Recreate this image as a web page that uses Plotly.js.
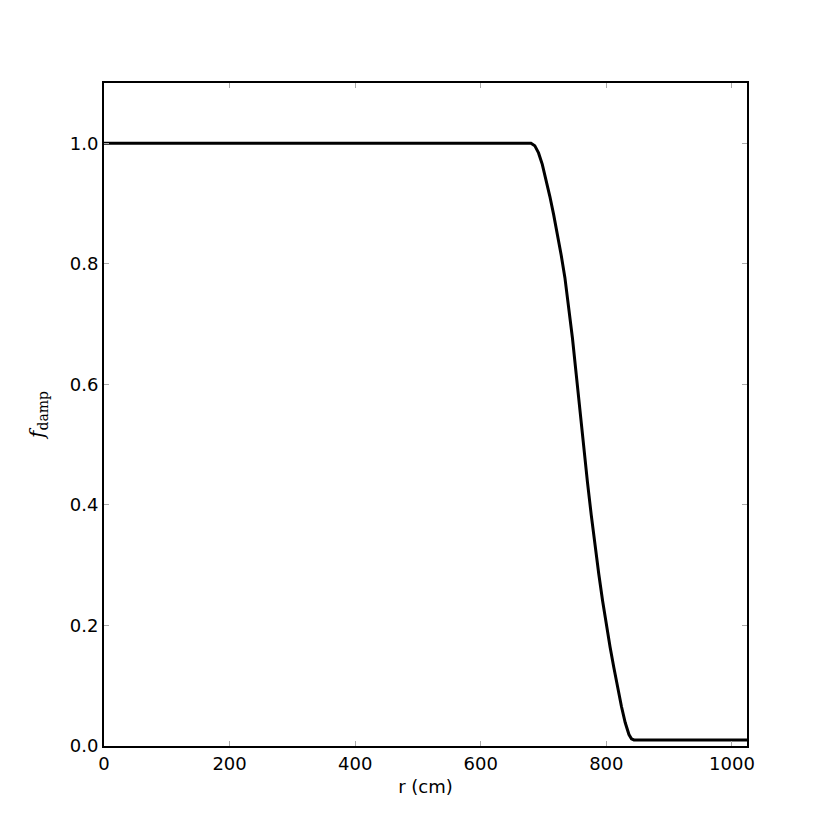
<!DOCTYPE html>
<html>
<head>
<meta charset="utf-8">
<script src="https://cdn.plot.ly/plotly-3.0.1.min.js"></script>
<style>html,body{margin:0;padding:0;background:#fff;}#chart{width:830px;height:830px;}</style>
</head>
<body>
<div id="chart"></div>
<script>
// radius (cm) and damping factor
const radius = [0, 200, 400, 600, 680, 686, 692, 698, 704, 710, 716, 722, 728, 734, 740, 746, 752, 758, 764, 770, 776, 782, 788, 794, 800, 806, 812, 818, 824, 830, 836, 840, 844, 900, 1000, 1024];
const fDamp  = [1.0, 1.0, 1.0, 1.0, 1.0, 0.996, 0.984, 0.965, 0.940, 0.912, 0.882, 0.850, 0.815, 0.777, 0.731, 0.677, 0.617, 0.555, 0.494, 0.437, 0.383, 0.332, 0.285, 0.241, 0.200, 0.164, 0.130, 0.097, 0.066, 0.039, 0.019, 0.012, 0.010, 0.010, 0.010, 0.010];
const xTicks = [0, 200, 400, 600, 800, 1000];
const yTicks = [0.0, 0.2, 0.4, 0.6, 0.8, 1.0];
const yTickText = ["0.0", "0.2", "0.4", "0.6", "0.8", "1.0"];

const trace = {
  x: radius, y: fDamp, type: 'scatter', mode: 'lines',
  line: {color: '#000', width: 3, shape: 'linear'},
  hoverinfo: 'skip'
};
const axisCommon = {
  showgrid: false, zeroline: false, showline: true, mirror: 'ticks',
  linecolor: '#000', linewidth: 2, ticks: 'inside', ticklen: 5, tickwidth: 1,
  tickcolor: '#aaa',
  tickfont: {family: 'DejaVu Sans, sans-serif', size: 18, color: '#000'}
};
const layout = {
  width: 830, height: 830,
  margin: {l: 104, r: 83, t: 83, b: 84},
  paper_bgcolor: '#fff', plot_bgcolor: '#fff',
  showlegend: false,
  xaxis: Object.assign({}, axisCommon, {
    range: [0, 1024], tickvals: xTicks, ticktext: xTicks.map(String),
    title: {text: 'r (cm)', font: {family: 'DejaVu Sans, sans-serif', size: 18, color: '#000'}, standoff: 8}
  }),
  yaxis: Object.assign({}, axisCommon, {
    range: [0, 1.1], tickvals: yTicks, ticktext: yTickText,
    title: {text: '<i>f</i><sub>damp</sub>', font: {family: 'DejaVu Serif, serif', size: 20, color: '#000'}, standoff: 20}
  })
};
Plotly.newPlot('chart', [trace], layout, {staticPlot: true, displayModeBar: false});
</script>
</body>
</html>
